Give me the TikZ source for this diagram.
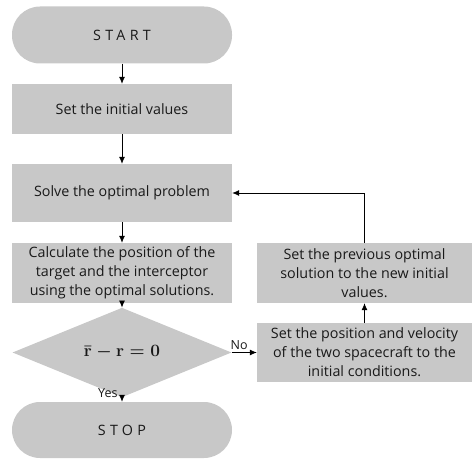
\documentclass[tikz,border=0pt]{standalone}
\usepackage{fontspec}
\setmainfont{Open Sans}
\usetikzlibrary{shapes.geometric,arrows.meta}
\definecolor{boxgray}{RGB}{200,200,200}
\definecolor{txt}{RGB}{25,25,25}
\newcommand{\condtext}{{\fontsize{19}{22}\selectfont\mathversion{bold}$\bar{\mathbf{r}}-\mathbf{r}=\mathbf{0}$}}
\begin{document}
\begin{tikzpicture}[x=1pt,y=-1pt,
  every node/.style={font=\fontsize{14.3}{19}\selectfont,text=txt},
  procbox/.style={fill=boxgray,draw=none,rectangle,align=center,inner sep=2pt},
  termbox/.style={fill=boxgray,draw=none,rectangle,rounded corners=28pt,minimum width=220pt,minimum height=57pt},
  decbox/.style={fill=boxgray,draw=none,diamond,inner sep=0pt,minimum width=219pt,minimum height=57pt},
  arr/.style={-{Latex[length=7pt,width=6pt]},line width=0.8pt,black},
  lbl/.style={font=\fontsize{12.5}{14}\selectfont,inner sep=1pt}]
\useasboundingbox (0,0) rectangle (475,460);
\node[termbox] (start) at (122,35) {\addfontfeature{LetterSpace=30}START};
\node[procbox,minimum width=220pt,minimum height=50pt] (init) at (122,109) {Set the initial values};
\node[procbox,minimum width=220pt,minimum height=58pt] (solve) at (122,193) {Solve the optimal problem};
\node[procbox,minimum width=220pt,minimum height=60pt] (calc) at (122,273) {Calculate the position of the\\target and the interceptor\\using the optimal solutions.};
\node[decbox] (dec) at (122,352.5) {\condtext};
\node[termbox,minimum height=56pt] (stop) at (122,430) {\addfontfeature{LetterSpace=30}STOP};
\node[procbox,minimum width=215pt,minimum height=60pt] (prev) at (364.5,273) {Set the previous optimal\\solution to the new initial\\values.};
\node[procbox,minimum width=215pt,minimum height=59pt] (setpos) at (364.5,352.5) {Set the position and velocity\\of the two spacecraft to the\\initial conditions.};
\draw[arr] (start) -- (init);
\draw[arr] (init) -- (solve);
\draw[arr] (solve) -- (calc);
\draw[arr] (calc) -- (dec);
\draw[arr] (dec.south) -- node[lbl,anchor=east,pos=0.3,xshift=-3pt,yshift=6pt] {Yes} (stop.north);
\draw[arr] (dec.east) -- node[lbl,anchor=south,pos=0.3,yshift=1pt] {No} (setpos.west);
\draw[arr] (setpos) -- (prev);
\draw[arr] (prev.north) |- (solve.east);
\end{tikzpicture}
\end{document}
